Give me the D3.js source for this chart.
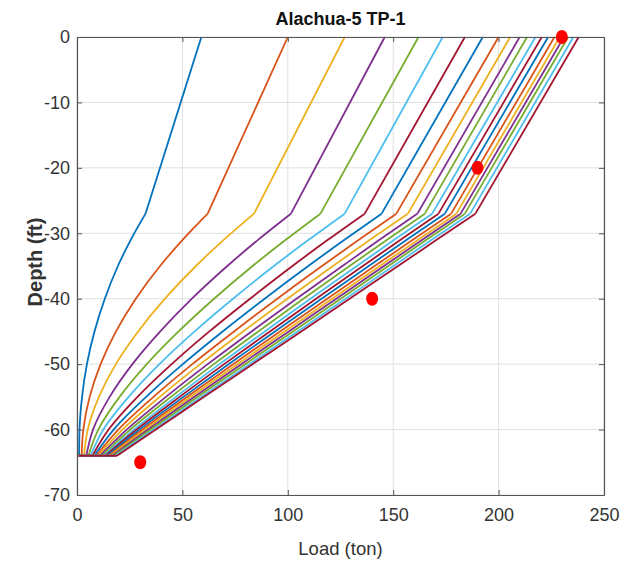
<!DOCTYPE html>
<html>
<head>
<meta charset="utf-8">
<script src="https://cdn.jsdelivr.net/npm/d3@7"></script>
<style>
  body { margin: 0; background: #fff; }
  svg { display: block; }
  text { font-family: "Liberation Sans", Arial, Helvetica, sans-serif; }
</style>
</head>
<body>
<svg id="chart" width="628" height="561"></svg>
<script>
// Depths (ft) at which each load-transfer profile is sampled
const depthFt = [0, -27, -31, -35, -40, -45, -50, -55, -60, -64];

// Axial load (ton) along the pile for each load step, one row per step
const loadProfiles = [
  [59,    32.5,  25.5,  19.4,  13.2,   8.3,   4.7,   2.4,   1.2,   1.0],
  [100,   62,    50.1,  39.4,  27.9,  18.5,  11.2,   6.0,   3.0,   2.2],
  [127,   84,    69.6,  56.4,  41.7,  29.0,  18.4,  10.4,   5.1,   3.3],
  [146,   101.5, 85.9,  71.3,  54.5,  39.5,  26.3,  15.5,   7.6,   4.4],
  [162,   115.5, 99.0,  83.3,  65.0,  48.2,  33.1,  20.2,  10.1,   5.4],
  [173.5, 127,   109.9, 93.4,  74.0,  55.8,  39.1,  24.5,  12.5,   6.4],
  [184,   136.5, 119.0, 102.2, 82.1,  62.8,  44.9,  28.7,  15.0,   7.3],
  [192.5, 144.5, 126.9, 109.7, 89.0,  69.1,  50.2,  32.8,  17.4,   8.2],
  [200,   151.5, 133.7, 116.2, 95.0,  74.5,  54.7,  36.3,  19.6,   9.1],
  [205.5, 157,   139.0, 121.4, 99.8,  78.8,  58.5,  39.3,  21.6,  10.0],
  [210,   161.5, 143.5, 125.9, 104.1, 82.8,  62.0,  42.2,  23.6,  10.9],
  [213.5, 165,   147.1, 129.3, 107.4, 86.0,  64.9,  44.6,  25.3,  11.8],
  [217.5, 168.5, 150.5, 132.8, 110.7, 89.1,  67.6,  46.9,  27.0,  12.6],
  [220.5, 171.5, 153.5, 135.6, 113.4, 91.5,  69.8,  48.7,  28.3,  13.4],
  [223.5, 174.5, 156.4, 138.4, 116.0, 93.9,  71.9,  50.5,  29.7,  14.2],
  [226.5, 177.5, 159.3, 141.2, 118.7, 96.3,  74.1,  52.3,  31.1,  15.0],
  [229,   180,   161.8, 143.6, 121.0, 98.5,  76.1,  54.0,  32.4,  15.8],
  [231,   182,   163.8, 145.6, 123.0, 100.5, 77.9,  55.7,  33.7,  16.6],
  [233,   184,   165.8, 147.7, 125.1, 102.5, 79.8,  57.3,  35.0,  17.4],
  [235.5, 186.5, 168.3, 150.1, 127.4, 104.7, 81.8,  59.1,  36.4,  18.2],
  [238,   189,   170.6, 152.3, 129.3, 106.4, 83.3,  60.3,  37.4,  19.0]
];

// Every profile closes along the toe level back to this load
const toeLoad = 0.8;

// Measured points
const testLoads  = [230, 190, 140, 30];
const testDepths = [0, -20, -40, -65];

const xTicks = [0, 50, 100, 150, 200, 250];
const yTicks = [0, -10, -20, -30, -40, -50, -60, -70];

const palette = ["#0072BD", "#D95319", "#EDB120", "#7E2F8E", "#77AC30", "#4DBEEE", "#A2142F"];

const svg = d3.select("#chart");
const W = 628, H = 561;
const plotL = 77, plotR = 604, plotT = 37, plotB = 495;

svg.append("rect").attr("width", W).attr("height", H).attr("fill", "#fff");

const x = d3.scaleLinear().domain([0, 250]).range([plotL, plotR]);
const y = d3.scaleLinear().domain([-70, 0]).range([plotB, plotT]);

// grid
const grid = svg.append("g").attr("stroke", "#e0e0e0").attr("stroke-width", 1);
grid.selectAll("line.gx").data(xTicks).join("line").attr("class", "gx")
  .attr("x1", d => x(d)).attr("x2", d => x(d)).attr("y1", plotT).attr("y2", plotB);
grid.selectAll("line.gy").data(yTicks).join("line").attr("class", "gy")
  .attr("y1", d => y(d)).attr("y2", d => y(d)).attr("x1", plotL).attr("x2", plotR);

// load-transfer profiles: straight shaft segment above the break,
// smooth decay below it, then the toe closing segment
const straight = d3.line().x(d => x(d[0])).y(d => y(d[1]));
const smooth = d3.line().x(d => x(d[0])).y(d => y(d[1])).curve(d3.curveMonotoneY);
const breakIdx = 1;

const profiles = svg.append("g").attr("fill", "none").attr("stroke-width", 1.8)
  .attr("stroke-linejoin", "round")
  .selectAll("g").data(loadProfiles).join("g")
  .attr("stroke", (d, i) => palette[i % palette.length]);

profiles.each(function (row) {
  const pts = row.map((v, j) => [v, depthFt[j]]);
  const g = d3.select(this);
  const last = pts[pts.length - 1];
  g.append("path").attr("d", straight([last, [toeLoad, last[1]]]));
  g.append("path").attr("d", straight(pts.slice(0, breakIdx + 1)));
  g.append("path").attr("d", smooth(pts.slice(breakIdx)));
});

// axes (inward ticks on all four sides)
const axisColor = "#555";
const plainFmt = d => String(d);
function styleAxis(g) {
  g.select(".domain").attr("stroke", axisColor).attr("stroke-width", 1.2);
  g.selectAll(".tick line").attr("stroke", axisColor);
  g.selectAll(".tick text").attr("fill", "#333").attr("font-size", 18)
    .attr("font-family", "'Liberation Sans', Arial, sans-serif");
}
svg.append("g").attr("transform", `translate(0,${plotB})`)
  .call(d3.axisBottom(x).tickValues(xTicks).tickFormat(plainFmt).tickSizeInner(-5).tickSizeOuter(0).tickPadding(13))
  .call(styleAxis);
svg.append("g").attr("transform", `translate(${plotL},0)`)
  .call(d3.axisLeft(y).tickValues(yTicks).tickFormat(plainFmt).tickSizeInner(-5).tickSizeOuter(0).tickPadding(7))
  .call(styleAxis);
svg.append("g").attr("transform", `translate(0,${plotT})`)
  .call(d3.axisTop(x).tickValues(xTicks).tickSizeInner(-5).tickSizeOuter(0).tickFormat(""))
  .call(styleAxis);
svg.append("g").attr("transform", `translate(${plotR},0)`)
  .call(d3.axisRight(y).tickValues(yTicks).tickSizeInner(-5).tickSizeOuter(0).tickFormat(""))
  .call(styleAxis);

// measured points
svg.append("g").selectAll("ellipse").data(testLoads).join("ellipse")
  .attr("cx", d => x(d)).attr("cy", (d, i) => y(testDepths[i]))
  .attr("rx", 6).attr("ry", 7).attr("fill", "#ff0000");

// title and axis labels
svg.append("text").attr("x", (plotL + plotR) / 2).attr("y", 25)
  .attr("text-anchor", "middle").attr("font-weight", "bold").attr("font-size", 18)
  .attr("fill", "#111").text("Alachua-5 TP-1");

svg.append("text").attr("x", (plotL + plotR) / 2).attr("y", 555)
  .attr("text-anchor", "middle").attr("font-size", 18.5).attr("fill", "#333")
  .text("Load (ton)");

svg.append("text").attr("transform", "translate(42,262) rotate(-90)")
  .attr("text-anchor", "middle").attr("font-size", 20).attr("font-weight", "bold")
  .attr("fill", "#333").text("Depth (ft)");
</script>
</body>
</html>
